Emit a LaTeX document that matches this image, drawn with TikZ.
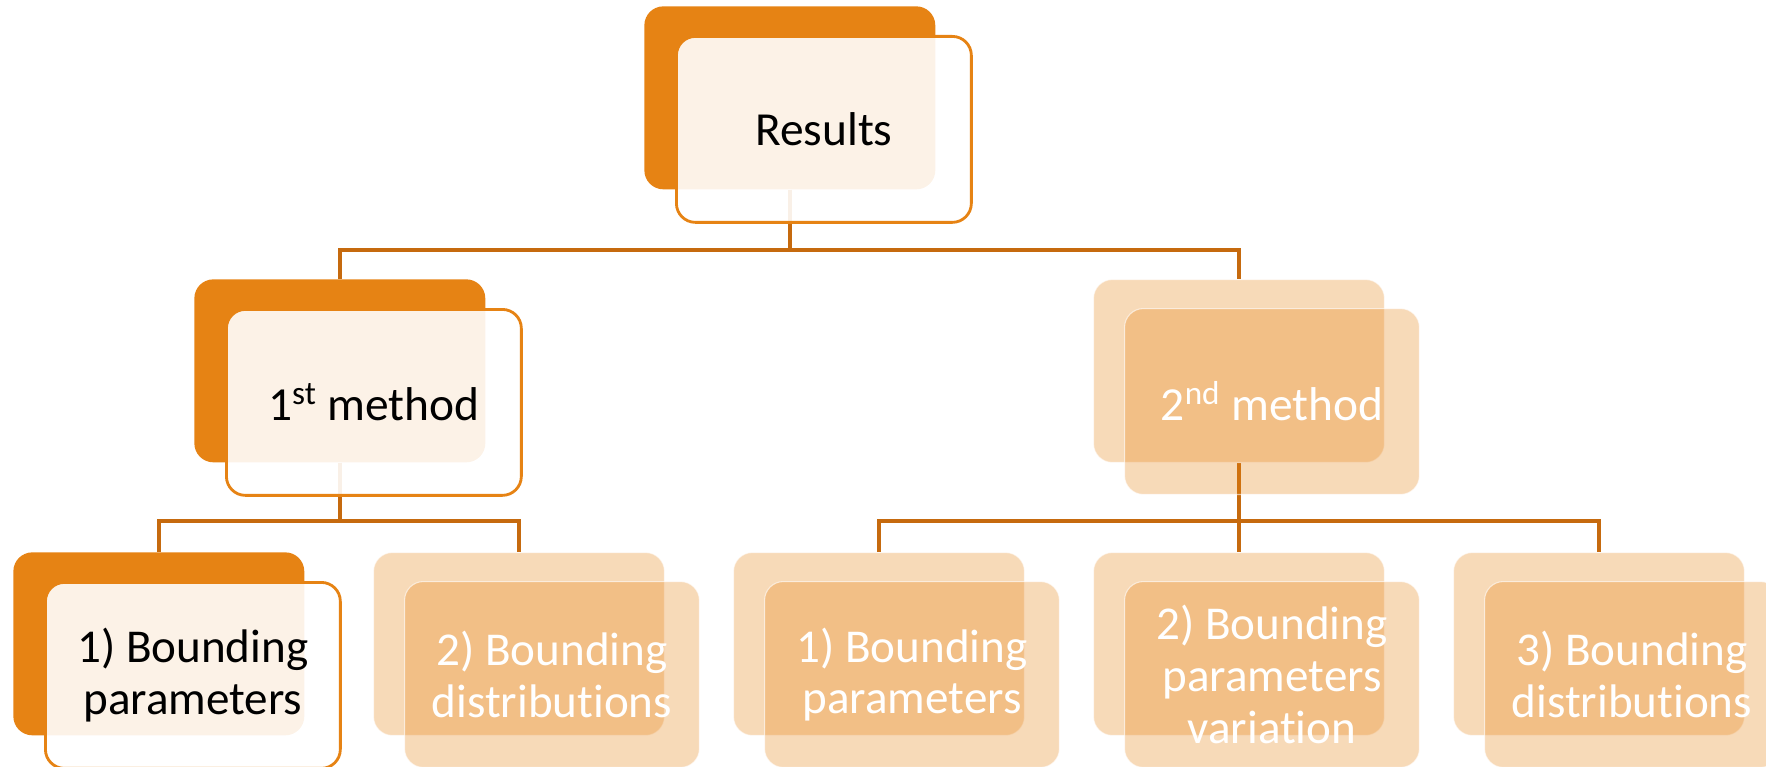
\documentclass[tikz,border=0pt]{standalone}
\usepackage{fontspec}
\setmainfont{Carlito}[Ligatures=NoCommon]
\pgfdeclarelayer{bg}
\pgfsetlayers{bg,main}
\definecolor{dorange}{RGB}{230,131,20}
\definecolor{lineor}{RGB}{198,106,14}
\tikzset{
 box/.style={rectangle, rounded corners=0.38cm, minimum width=5.82cm, minimum height=3.66cm, anchor=north west, inner sep=0pt},
 backsel/.style={box, fill=dorange},
 frontsel/.style={box, minimum width=5.9cm, minimum height=3.72cm, draw=dorange, line width=1.6pt, fill=white, fill opacity=0.9, text opacity=1, text=black, align=center},
 backlt/.style={box, fill=dorange, fill opacity=0.3, draw=white, draw opacity=0.5, line width=0.6pt},
 frontlt/.style={box, minimum width=5.9cm, minimum height=3.72cm, fill=dorange, fill opacity=0.3, draw=white, draw opacity=0.6, line width=0.6pt, text opacity=1, text=white, align=center},
 big/.style={font=\fontsize{27}{32}\selectfont},
 small/.style={font=\fontsize{26.8}{29.5}\selectfont},
 conn/.style={draw=lineor, line width=2pt},
}
\begin{document}
\begin{tikzpicture}[x=0.02cm, y=-0.02cm]
\useasboundingbox (0,0) rectangle (1766,767);
% top
\node[backsel] (resB) at (644,6) {};
\node[frontsel, big] (resF) at (675,35) {Results};
% level 1
\node[backsel] (m1B) at (194,279) {};
\node[frontsel, big] (m1F) at (225,308) {1\textsuperscript{st} method};
\node[backlt] (m2B) at (1093,279) {};
\node[frontlt, big] (m2F) at (1124,308) {2\textsuperscript{nd} method};
% level 2
\node[backsel] (b1B) at (13,552) {};
\node[frontsel, small] (b1F) at (44,581) {1) Bounding\\parameters};
\node[backlt] (b2B) at (373,552) {};
\node[frontlt, small] (b2F) at (404,581) {2) Bounding\\distributions};
\node[backlt] (b3B) at (733,552) {};
\node[frontlt, small] (b3F) at (764,581) {1) Bounding\\parameters};
\node[backlt] (b4B) at (1093,552) {};
\node[frontlt, small] (b4F) at (1124,581) {2) Bounding\\parameters\\variation};
\node[backlt] (b5B) at (1453,552) {};
\node[frontlt, small] (b5F) at (1484,581) {3) Bounding\\distributions};
% connectors
\coordinate (bar0) at (0,250);
\coordinate (bar1) at (0,521);
\begin{pgfonlayer}{bg}
\coordinate (j0) at (resB.south |- bar0);
\draw[conn] (resB.south) -- (j0);
\draw[conn] (m1B.north) |- (j0) -| (m2B.north);
\coordinate (j1) at (m1B.south |- bar1);
\draw[conn] (m1B.south) -- (j1);
\draw[conn] (b1B.north) |- (j1) -| (b2B.north);
\coordinate (j2) at (m2B.south |- bar1);
\draw[conn] (m2B.south) -- (j2);
\draw[conn] (b3B.north) |- (j2) -| (b5B.north);
\draw[conn] (j2) -- (b4B.north);
\end{pgfonlayer}
\end{tikzpicture}
\end{document}
